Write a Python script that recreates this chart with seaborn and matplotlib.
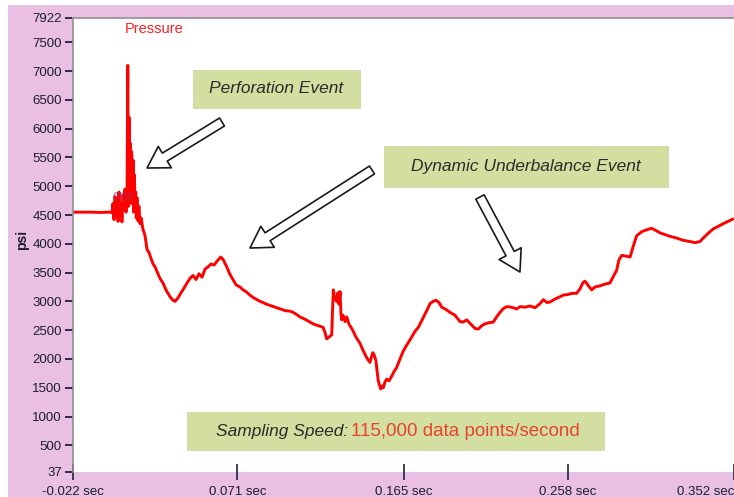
import numpy as np
import pandas as pd
import matplotlib
matplotlib.use('Agg')
import matplotlib.pyplot as plt
from matplotlib.patches import Rectangle
import seaborn as sns

# Pressure trace (time in sec, pressure in psi)
time_sec = [
    -0.0220, -0.0124, -0.0067, -0.0011, 0.0001, 0.0006, 0.0012, 0.0018, 0.0023, 0.0029,
    0.0035, 0.0040, 0.0046, 0.0052, 0.0057, 0.0063, 0.0069, 0.0074, 0.0080, 0.0086,
    0.0090, 0.0093, 0.0097, 0.0101, 0.0104, 0.0108, 0.0112, 0.0116, 0.0120, 0.0123,
    0.0127, 0.0131, 0.0135, 0.0138, 0.0142, 0.0148, 0.0153, 0.0159, 0.0165, 0.0176,
    0.0187, 0.0199, 0.0210, 0.0221, 0.0233, 0.0244, 0.0255, 0.0272, 0.0289, 0.0306,
    0.0329, 0.0346, 0.0357, 0.0374, 0.0391, 0.0408, 0.0425, 0.0442, 0.0459, 0.0476,
    0.0493, 0.0510, 0.0527, 0.0544, 0.0561, 0.0578, 0.0595, 0.0616, 0.0629, 0.0650,
    0.0668, 0.0685, 0.0702, 0.0725, 0.0742, 0.0763, 0.0781, 0.0798, 0.0821, 0.0838,
    0.0855, 0.0876, 0.0895, 0.0923, 0.0951, 0.0980, 0.1008, 0.1025, 0.1047, 0.1064,
    0.1093, 0.1121, 0.1138, 0.1166, 0.1195, 0.1206, 0.1215, 0.1228, 0.1244, 0.1248,
    0.1253, 0.1262, 0.1272, 0.1279, 0.1285, 0.1291, 0.1296, 0.1300, 0.1308, 0.1319,
    0.1329, 0.1342, 0.1353, 0.1364, 0.1381, 0.1404, 0.1421, 0.1442, 0.1460, 0.1476,
    0.1483, 0.1494, 0.1507, 0.1521, 0.1528, 0.1536, 0.1545, 0.1555, 0.1568, 0.1583,
    0.1596, 0.1611, 0.1630, 0.1649, 0.1670, 0.1696, 0.1715, 0.1734, 0.1749, 0.1762,
    0.1783, 0.1800, 0.1817, 0.1834, 0.1851, 0.1866, 0.1890, 0.1913, 0.1941, 0.1970,
    0.1987, 0.2008, 0.2026, 0.2055, 0.2073, 0.2094, 0.2111, 0.2134, 0.2158, 0.2179,
    0.2196, 0.2213, 0.2234, 0.2258, 0.2291, 0.2309, 0.2337, 0.2366, 0.2394, 0.2422,
    0.2441, 0.2462, 0.2479, 0.2507, 0.2535, 0.2554, 0.2581, 0.2603, 0.2630, 0.2649,
    0.2666, 0.2677, 0.2694, 0.2715, 0.2733, 0.2762, 0.2790, 0.2818, 0.2835, 0.2856,
    0.2869, 0.2885, 0.2903, 0.2920, 0.2932, 0.2949, 0.2969, 0.2998, 0.3022, 0.3054,
    0.3079, 0.3101, 0.3130, 0.3158, 0.3196, 0.3233, 0.3271, 0.3299, 0.3328, 0.3346,
    0.3373, 0.3403, 0.3429, 0.3459, 0.3486, 0.3514,
]
pressure_psi = [
    4550, 4550, 4545, 4550, 4540, 4700, 4420, 4820, 4480, 4760,
    4390, 4900, 4500, 4700, 4380, 4850, 4600, 4950, 4550, 5000,
    7100, 4650, 6200, 5000, 5750, 4700, 5600, 4900, 5450, 4550,
    5200, 4700, 4900, 4450, 4800, 4400, 4650, 4350, 4450, 4250,
    4150, 3900, 3850, 3750, 3650, 3600, 3520, 3400, 3320, 3200,
    3080, 3020, 3000, 3060, 3150, 3230, 3320, 3400, 3450, 3380,
    3480, 3420, 3560, 3600, 3650, 3630, 3700, 3770, 3730, 3600,
    3470, 3380, 3290, 3250, 3200, 3160, 3110, 3070, 3030, 3000,
    2980, 2950, 2930, 2900, 2870, 2840, 2830, 2810, 2770, 2730,
    2690, 2640, 2610, 2580, 2550, 2460, 2350, 2380, 2420, 2800,
    3200, 3050, 3000, 3150, 2950, 3170, 2800, 2680, 2760, 2650,
    2730, 2600, 2550, 2490, 2380, 2270, 2150, 2020, 1940, 2110,
    2080, 1970, 1620, 1480, 1530, 1500, 1600, 1650, 1620, 1700,
    1780, 1850, 2000, 2140, 2250, 2380, 2480, 2550, 2640, 2720,
    2850, 2960, 3000, 3020, 2980, 2900, 2860, 2810, 2760, 2650,
    2640, 2680, 2620, 2530, 2520, 2580, 2610, 2630, 2640, 2740,
    2810, 2870, 2910, 2900, 2870, 2910, 2900, 2920, 2890, 2960,
    3030, 2980, 2990, 3040, 3080, 3110, 3120, 3140, 3140, 3220,
    3330, 3350, 3280, 3200, 3250, 3270, 3300, 3320, 3420, 3540,
    3720, 3800, 3790, 3780, 3770, 3950, 4140, 4210, 4240, 4270,
    4230, 4190, 4160, 4130, 4100, 4060, 4040, 4020, 4040, 4100,
    4180, 4260, 4300, 4350, 4390, 4430,
]

y_ticks = [37, 500, 1000, 1500, 2000, 2500, 3000, 3500, 4000, 4500,
           5000, 5500, 6000, 6500, 7000, 7500, 7922]
x_ticks = [-0.022, 0.071, 0.165, 0.258, 0.352]
x_tick_labels = ['-0.022 sec', '0.071 sec', '0.165 sec', '0.258 sec', '0.352 sec']

PINK = '#e9c0e3'
GREEN = '#d2dfa0'
TXT = '#2b2b2b'

df = pd.DataFrame({'time': time_sec, 'pressure': pressure_psi})

sns.set_style('white')
plt.rcParams['font.family'] = ['Liberation Sans', 'DejaVu Sans']

fig = plt.figure(figsize=(7.34, 4.97), dpi=100)
fig.patch.set_facecolor('white')
fig.add_artist(Rectangle((8 / 734, 0), 1, 1 - 5 / 497, transform=fig.transFigure,
                         facecolor=PINK, edgecolor='none', zorder=-10))

ax = fig.add_axes([73 / 734, 25 / 497, 661 / 734, 454 / 497])
ax.set_facecolor('white')

sns.lineplot(data=df, x='time', y='pressure', ax=ax, color='#ff0000',
             linewidth=2.1, sort=False, estimator=None)

ax.set_xlim(-0.022, 0.352)
ax.set_ylim(37, 7922)
ax.set_xlabel('')
ax.set_ylabel('')
ax.set_yticks(y_ticks)
ax.set_yticklabels([str(v) for v in y_ticks], fontsize=9.5, color='#1c1c30')
ax.set_xticks(x_ticks)
ax.set_xticklabels(x_tick_labels, fontsize=9.5, color='#1c1c30')
ax.get_xticklabels()[-1].set_horizontalalignment('right')
ax.tick_params(axis='y', left=True, direction='out', length=6, width=1.3,
               color='#202040', pad=2)
ax.tick_params(axis='x', bottom=True, direction='inout', length=12, width=1.2,
               color='#202040', pad=4)
for side in ['left', 'top']:
    ax.spines[side].set_color('#909090')
    ax.spines[side].set_linewidth(1.2)
ax.spines['right'].set_visible(False)
ax.spines['bottom'].set_visible(False)

fig.text(22 / 734, 1 - 240 / 497, 'psi', rotation=90, fontsize=10,
         fontweight='bold', ha='center', va='center', color='#1c1c30')

ax.text(0.0787, 0.9758, 'Pressure', transform=ax.transAxes, fontsize=10.5,
        color='#ff2020', ha='left', va='center')
ax.text(0.0605, 0.606, 'CH0', transform=ax.transAxes, fontsize=7.5,
        color='#a03070', ha='left', va='center', alpha=0.8)

# annotation boxes
boxes = [
    ((0.1815, 0.8018), 0.2527, 0.0837),
    ((0.4705, 0.6278), 0.4297, 0.0903),
    ((0.1725, 0.0485), 0.6308, 0.0837),
]
for (bx, by), bw, bh in boxes:
    ax.add_patch(Rectangle((bx, by), bw, bh, transform=ax.transAxes,
                           facecolor=GREEN, edgecolor='#c8d49a', lw=0.5, zorder=3))

ax.text(0.3078, 0.8437, 'Perforation Event', transform=ax.transAxes, fontsize=12.5,
        style='italic', color=TXT, ha='center', va='center', zorder=4)
ax.text(0.6853, 0.673, 'Dynamic Underbalance Event', transform=ax.transAxes,
        fontsize=12.5, style='italic', color=TXT, ha='center', va='center', zorder=4)
ax.text(0.416, 0.0903, 'Sampling Speed:', transform=ax.transAxes, fontsize=12.5,
        style='italic', color=TXT, ha='right', va='center', zorder=4)
ax.text(0.4206, 0.0903, '115,000 data points/second', transform=ax.transAxes,
        fontsize=13.5, color='#e8412e', ha='left', va='center', zorder=4)

# hollow arrows
arrows = [
    ((0.2254, 0.7709), (0.1120, 0.6696)),
    ((0.4523, 0.6652), (0.2678, 0.4934)),
    ((0.6157, 0.6057), (0.6762, 0.4405)),
]
for tail, head in arrows:
    ax.annotate('', xy=head, xytext=tail, xycoords='axes fraction',
                textcoords='axes fraction', zorder=5,
                arrowprops=dict(arrowstyle='simple,head_length=1.0,head_width=1.2,tail_width=0.45',
                                mutation_scale=15, facecolor='white', edgecolor='#1a1a1a',
                                lw=1.2, shrinkA=0, shrinkB=0))

fig.savefig('out.png', dpi=100, facecolor=fig.get_facecolor())
